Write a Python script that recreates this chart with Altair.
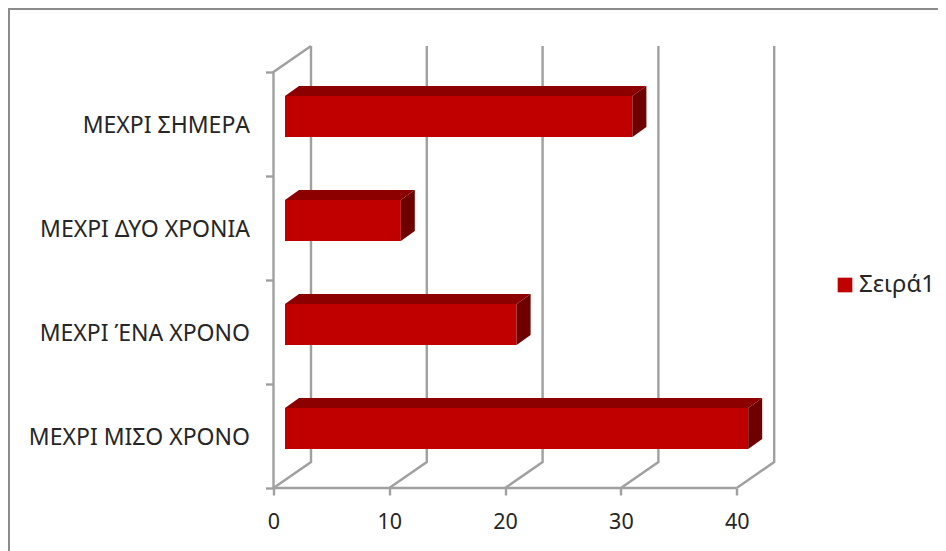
import altair as alt
import pandas as pd

categories = ["ΜΕΧΡΙ ΜΙΣΟ ΧΡΟΝΟ", "ΜΕΧΡΙ ΈΝΑ ΧΡΟΝΟ", "ΜΕΧΡΙ ΔΥΟ ΧΡΟΝΙΑ", "ΜΕΧΡΙ ΣΗΜΕΡΑ"]
values = [40, 20, 10, 30]
series_name = "Σειρά1"
x_ticks = [0, 10, 20, 30, 40]

PX_PER_X = 11.58
PX_PER_Y = 104.0
X0, Y0 = 273.5, 488.0        # page position of the axes origin
WALL_DX, WALL_DY = 37.5 / PX_PER_X, 26.0 / PX_PER_Y
BAR_START = 11.5 / PX_PER_X
TOP_DX, TOP_DY = 14.0 / PX_PER_X, 10.0 / PX_PER_Y
BAR_LO, BAR_HI = 39.0 / PX_PER_Y, 80.0 / PX_PER_Y
FONT = "Noto Sans"
TEXT = "#262626"
GRID = "#a0a0a0"
FRONT = "#c00000"
TOP = "#8c0000"
SIDE = "#6e0000"
SVG_W, SVG_H = 930, 543

X_MAX = 40 + WALL_DX
Y_MAX = 4 + WALL_DY
W = X_MAX * PX_PER_X
H = Y_MAX * PX_PER_Y
LEFT = X0 - 8
TOP_PAD = Y0 - H - 8

xs = alt.Scale(domain=[0, X_MAX], range=[0, W], nice=False, zero=False)
ys = alt.Scale(domain=[0, Y_MAX], range=[H, 0], nice=False, zero=False)
X = lambda f="x": alt.X(f"{f}:Q", scale=xs, title=None)
Y = lambda f="y": alt.Y(f"{f}:Q", scale=ys, title=None)

# walls: slanted floor line + back gridline for each tick
wall_rows = []
for v in x_ticks:
    wall_rows += [
        {"g": f"v{v}", "o": 0, "x": v, "y": 0},
        {"g": f"v{v}", "o": 1, "x": v + WALL_DX, "y": WALL_DY},
        {"g": f"v{v}", "o": 2, "x": v + WALL_DX, "y": 4 + WALL_DY},
    ]
wall_rows += [
    {"g": "front", "o": 0, "x": 0, "y": 0},
    {"g": "front", "o": 1, "x": 0, "y": 4},
    {"g": "front", "o": 2, "x": WALL_DX, "y": 4 + WALL_DY},
    {"g": "floor", "o": 0, "x": 0, "y": 0},
    {"g": "floor", "o": 1, "x": 40, "y": 0},
]
walls = alt.Chart(pd.DataFrame(wall_rows)).mark_line(
    color=GRID, strokeWidth=2.4, clip=False
).encode(
    x=alt.X("x:Q", scale=xs, title=None, axis=alt.Axis(
        values=x_ticks, domain=False, grid=False, orient="bottom",
        tickColor=GRID, tickSize=7, tickWidth=2.4, labelPadding=16,
        labelFont=FONT, labelFontSize=21.5, labelColor=TEXT, labelFlush=False,
        labelOverlap=False)),
    y=alt.Y("y:Q", scale=ys, title=None, axis=alt.Axis(
        values=[i / 2 for i in range(9)],
        labelExpr="datum.value % 1 == 0 ? '' : " + str(categories) + "[floor(datum.value)]",
        domain=False, grid=False, tickSize=8, tickWidth=2.4,
        tickColor=alt.condition("datum.value % 1 == 0", alt.value(GRID), alt.value("transparent")),
        labelPadding=16, labelFont=FONT, labelFontSize=23, labelColor=TEXT, labelOffset=1,
        labelOverlap=False, labelBound=False, labelLimit=400)),
    detail="g:N",
    order="o:Q",
)

# bar faces
front_rows, top_rows, side_rows = [], [], []
for i, (c, v) in enumerate(zip(categories, values)):
    a, b = BAR_START, BAR_START + v
    lo, hi = i + BAR_LO, i + BAR_HI
    front_rows.append({"cat": c, "series": series_name, "x": a, "x2": b, "y": lo, "y2": hi})
    top_rows += [
        {"cat": c, "y": hi, "x": a, "x2": b},
        {"cat": c, "y": hi + TOP_DY, "x": a + TOP_DX, "x2": b + TOP_DX},
    ]
    side_rows += [
        {"cat": c, "x": b, "y": lo, "y2": hi},
        {"cat": c, "x": b + TOP_DX, "y": lo + TOP_DY, "y2": hi + TOP_DY},
    ]

top_face = alt.Chart(pd.DataFrame(top_rows)).mark_area(
    orient="horizontal", color=TOP, clip=False
).encode(x=X(), x2="x2:Q", y=Y(), detail="cat:N")

side_face = alt.Chart(pd.DataFrame(side_rows)).mark_area(
    orient="vertical", color=SIDE, clip=False
).encode(x=X(), y=Y(), y2="y2:Q", detail="cat:N")

front_face = alt.Chart(pd.DataFrame(front_rows)).mark_rect(clip=False).encode(
    x=X(), x2="x2:Q", y=Y(), y2="y2:Q",
    color=alt.Color("series:N", scale=alt.Scale(range=[FRONT]), legend=alt.Legend(
        title=None, orient="none", legendX=833 - LEFT - 8, legendY=273 - TOP_PAD - 8,
        symbolType="square", symbolSize=215, symbolStrokeWidth=0,
        labelFont=FONT, labelFontSize=24, labelColor=TEXT, labelOffset=2, labelLimit=200)),
)

# chart frame (drawn relative to the plot area)
frame_top = alt.Chart(pd.DataFrame({"a": [0]})).mark_rule(color="#8c8c8c", strokeWidth=2, clip=False).encode(
    x=alt.value(-LEFT), x2=alt.value(SVG_W - LEFT), y=alt.value(1 - TOP_PAD))
frame_left = alt.Chart(pd.DataFrame({"a": [0]})).mark_rule(color="#8c8c8c", strokeWidth=2, clip=False).encode(
    x=alt.value(1 - LEFT), y=alt.value(-TOP_PAD), y2=alt.value(SVG_H - TOP_PAD))

chart = alt.layer(frame_top, frame_left, walls, front_face, top_face, side_face).properties(
    width=W, height=H,
    padding={"left": LEFT, "top": TOP_PAD, "right": SVG_W - LEFT - W, "bottom": SVG_H - TOP_PAD - H},
    autosize=alt.AutoSizeParams(type="none"),
    background="white",
).configure_view(strokeWidth=0, stroke="transparent")

chart.save("out.html", embed_options={"renderer": "svg", "actions": False})
